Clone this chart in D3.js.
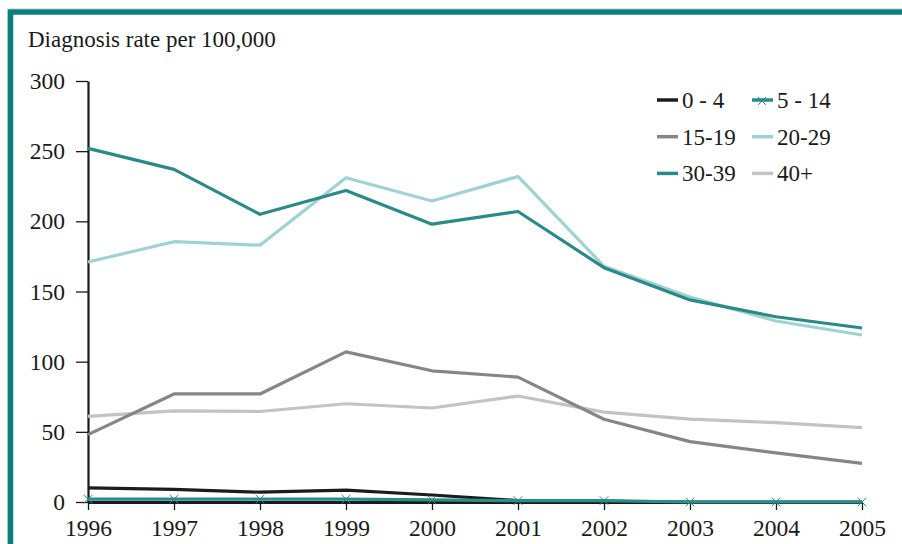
<!DOCTYPE html>
<html>
<head>
<meta charset="utf-8">
<script src="https://cdn.jsdelivr.net/npm/d3@7"></script>
<style>
  body { margin: 0; background: #fff; }
  svg { display: block; font-family: "Liberation Serif", "DejaVu Serif", serif; }
</style>
</head>
<body>
<svg id="chart" width="902" height="544"></svg>
<script>
// chart data
const years = [1996, 1997, 1998, 1999, 2000, 2001, 2002, 2003, 2004, 2005];
const groups = ['0 - 4', '5 - 14', '15-19', '20-29', '30-39', '40+'];
const age0to4   = [10, 9, 7, 8.5, 5, 1, 0.5, 0, 0, 0];
const age5to14  = [2, 2, 2, 2, 1.5, 1, 1, 0, 0, 0];
const age15to19 = [48, 77, 77, 107, 93.5, 89, 59, 43, 35, 27.5];
const age20to29 = [171, 185.5, 183, 231, 214.5, 232, 168, 146, 129, 119];
const age30to39 = [252, 237, 205, 222, 198, 207, 167, 144, 132, 124];
const age40plus = [61, 65, 64.5, 70, 67, 75.5, 64, 59, 56.5, 53];
const yTicks = [0, 50, 100, 150, 200, 250, 300];

const seriesValues = [age0to4, age5to14, age15to19, age20to29, age30to39, age40plus];
const colors = ['#1c1c1c', '#2a8d8a', '#868686', '#9fd3d1', '#2b8a87', '#c3c3c3'];

const svg = d3.select('#chart');

// teal frame
svg.append('path')
    .attr('d', 'M7.5,546 V8.5 H904')
    .attr('fill', 'none')
    .attr('stroke', '#d6e6e5')
    .attr('stroke-width', 1);

svg.append('path')
    .attr('d', 'M10.5,546 V12 H904')
    .attr('fill', 'none')
    .attr('stroke', '#0b807d')
    .attr('stroke-width', 5.5);

svg.append('text')
    .attr('x', 28)
    .attr('y', 47)
    .attr('font-size', 23)
    .attr('fill', '#1a1a1a')
    .text('Diagnosis rate per 100,000');

const x = d3.scalePoint().domain(years).range([88, 862]);
const y = d3.scaleLinear().domain([0, 300]).range([502, 81]);

// y axis
const yAxis = svg.append('g')
    .attr('transform', 'translate(88,0)')
    .call(d3.axisLeft(y).tickValues(yTicks).tickSize(12).tickSizeOuter(0).tickPadding(11));

yAxis.select('.domain').attr('stroke', '#1a1a1a').attr('stroke-width', 2.2);
yAxis.selectAll('.tick line').attr('stroke', '#1a1a1a').attr('stroke-width', 1.3);
yAxis.selectAll('.tick text')
    .attr('font-size', 23.5)
    .attr('font-family', '"Liberation Serif", serif')
    .attr('fill', '#1a1a1a');

// x axis
const xAxis = svg.append('g')
    .attr('transform', 'translate(0,502)')
    .call(d3.axisBottom(x).tickSize(8).tickSizeOuter(0).tickPadding(9));

xAxis.select('.domain').attr('stroke', '#1a1a1a').attr('stroke-width', 3);
xAxis.selectAll('.tick line').attr('stroke', '#1a1a1a').attr('stroke-width', 1.3);
xAxis.selectAll('.tick text')
    .attr('font-size', 23.5)
    .attr('font-family', '"Liberation Serif", serif')
    .attr('fill', '#1a1a1a');

// series lines
const line = d3.line()
    .x((d, i) => x(years[i]))
    .y((d) => y(d));

const order = [5, 2, 3, 4, 0, 1];

svg.append('g')
    .selectAll('path')
    .data(order)
  .enter()
  .append('path')
    .attr('d', (k) => line(seriesValues[k]))
    .attr('fill', 'none')
    .attr('stroke', (k) => colors[k])
    .attr('stroke-width', 3.2)
    .attr('stroke-linejoin', 'round');

// star markers for 5 - 14
const starPath = d3.symbol().type(d3.symbolTimes).size(50);

svg.append('g')
    .selectAll('path')
    .data(age5to14)
  .enter()
  .append('path')
    .attr('transform', (d, i) => `translate(${x(years[i])},${y(d)})`)
    .attr('d', starPath)
    .attr('fill', 'none')
    .attr('stroke', colors[1])
    .attr('stroke-width', 1);

// legend
const legend = svg.append('g')
    .selectAll('g')
    .data(groups)
  .enter()
  .append('g')
    .attr('transform', (d, i) => `translate(${i % 2 ? 752 : 657},${100 + Math.floor(i / 2) * 36.7})`);

legend.append('line')
    .attr('x1', 0)
    .attr('x2', 21)
    .attr('stroke', (d, i) => colors[i])
    .attr('stroke-width', 3.5);

legend.filter((d, i) => i === 1)
  .append('path')
    .attr('transform', 'translate(10,1)')
    .attr('d', d3.symbol().type(d3.symbolTimes).size(40))
    .attr('stroke', colors[1])
    .attr('stroke-width', 1);

legend.append('text')
    .attr('x', 25)
    .attr('dy', '0.35em')
    .attr('font-size', 23)
    .attr('fill', '#1a1a1a')
    .text((d) => d);
</script>
</body>
</html>
